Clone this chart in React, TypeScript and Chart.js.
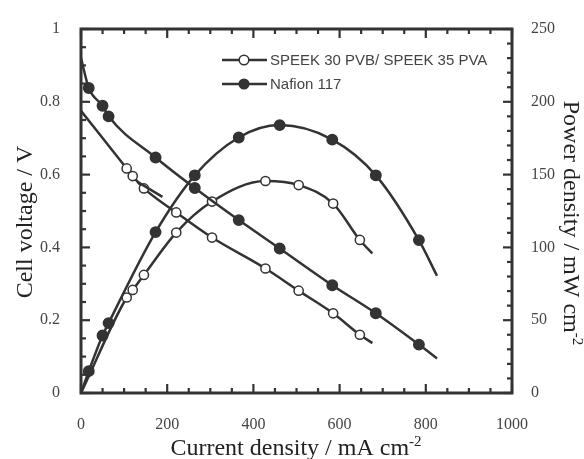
import React, { useEffect, useRef } from "react";
import { Chart, registerables } from "chart.js";

Chart.register(...registerables);

// ---- data ----
const nafionCurrent = [18, 50, 64, 173, 264, 366, 461, 583, 684, 784];
const nafionVoltage = [0.838, 0.789, 0.76, 0.647, 0.563, 0.475, 0.397, 0.296, 0.219, 0.133];
const nafionPower = [15, 39.5, 48, 110.5, 149.5, 175.5, 184, 174, 149.5, 105];
const nafionFitEndCurrent = 826;
const nafionVoltageFitEnds = [0.92, 0.095];
const nafionPowerFitEnds = [0, 80.5];

const speekCurrent = [106, 120, 146, 221, 304, 428, 505, 585, 647];
const speekVoltage = [0.617, 0.596, 0.562, 0.496, 0.427, 0.342, 0.281, 0.219, 0.16];
const speekPower = [65.6, 70.8, 81.1, 110.2, 131.5, 145.6, 142.8, 130.1, 105.1];
const speekFitEndCurrent = 676;
const speekVoltageFitEnds = [0.775, 0.137];
const speekPowerFitEnds = [0, 95.8];

const stubCurrent = [131, 189];
const stubVoltage = [0.58, 0.539];

const legendLabels = ["SPEEK 30 PVB/ SPEEK 35 PVA", "Nafion 117"];

const xRange = [0, 1000];
const xMajorStep = 200;
const xMinorStep = 50;
const yRange = [0, 1];
const yMajorStep = 0.2;
const yMinorStep = 0.05;
const y1Range = [0, 250];
const y1MajorStep = 50;
const y1MinorStep = 10;

const xTitle = ["Current density / mA cm", "-2"];
const yTitle = ["Cell voltage / V", ""];
const y1Title = ["Power density / mW cm", "-2"];

const INK = "#333";

function curve(xs: number[], ys: number[], ends: number[], endX: number) {
  return [
    { x: 0, y: ends[0] },
    ...xs.map((x, i) => ({ x, y: ys[i] })),
    { x: endX, y: ends[1] },
  ];
}

function radiusFn(r: number) {
  return (c: any) =>
    c.dataIndex === 0 || c.dataIndex === c.dataset.data.length - 1 ? 0 : r;
}

const plainLabel = (v: any) => String(Number(Number(v).toFixed(3)));

function drawTitle(
  ctx: CanvasRenderingContext2D,
  cx: number,
  cy: number,
  rot: number,
  parts: string[],
  size: number
) {
  ctx.save();
  ctx.translate(cx, cy);
  ctx.rotate(rot);
  const mainFont = `${size}px "Liberation Serif", "Times New Roman", serif`;
  const supSize = Math.round(size * 0.62);
  const supFont = `${supSize}px "Liberation Serif", "Times New Roman", serif`;
  ctx.font = mainFont;
  const w1 = ctx.measureText(parts[0]).width;
  ctx.font = supFont;
  const w2 = parts[1] ? ctx.measureText(parts[1]).width : 0;
  const total = w1 + w2;
  const base = size * 0.34;
  ctx.fillStyle = "#222";
  ctx.textAlign = "left";
  ctx.textBaseline = "alphabetic";
  ctx.font = mainFont;
  ctx.fillText(parts[0], -total / 2, base);
  if (parts[1]) {
    ctx.font = supFont;
    ctx.fillText(parts[1], -total / 2 + w1, base - size * 0.38);
  }
  ctx.restore();
}

const framePlugin = {
  id: "frameTicks",
  afterDraw(chart: any) {
    const { ctx, chartArea: a, scales } = chart;
    ctx.save();
    ctx.strokeStyle = INK;
    ctx.lineCap = "butt";
    ctx.lineWidth = 2.2;
    const seg = (x1: number, y1: number, x2: number, y2: number) => {
      ctx.beginPath();
      ctx.moveTo(x1, y1);
      ctx.lineTo(x2, y2);
      ctx.stroke();
    };
    const major = 9;
    const minor = 5;
    const nx = Math.round((xRange[1] - xRange[0]) / xMinorStep);
    const rx = Math.round(xMajorStep / xMinorStep);
    for (let i = 0; i <= nx; i++) {
      const p = scales.x.getPixelForValue(xRange[0] + i * xMinorStep);
      const len = i % rx === 0 ? major : minor;
      seg(p, a.bottom, p, a.bottom - len);
      seg(p, a.top, p, a.top + len);
    }
    const ny = Math.round((yRange[1] - yRange[0]) / yMinorStep);
    const ry = Math.round(yMajorStep / yMinorStep);
    for (let i = 0; i <= ny; i++) {
      const p = scales.y.getPixelForValue(yRange[0] + i * yMinorStep);
      const len = i % ry === 0 ? major : minor;
      seg(a.left, p, a.left + len, p);
    }
    const ny1 = Math.round((y1Range[1] - y1Range[0]) / y1MinorStep);
    const ry1 = Math.round(y1MajorStep / y1MinorStep);
    for (let i = 0; i <= ny1; i++) {
      const p = scales.y1.getPixelForValue(y1Range[0] + i * y1MinorStep);
      const len = i % ry1 === 0 ? major : minor;
      seg(a.right, p, a.right - len, p);
    }
    ctx.lineWidth = 3;
    ctx.strokeRect(a.left, a.top, a.right - a.left, a.bottom - a.top);

    // legend
    const items = [
      { label: legendLabels[0], fill: "#fff", y: 60 },
      { label: legendLabels[1], fill: INK, y: 84 },
    ];
    items.forEach((it) => {
      ctx.lineWidth = 2.5;
      ctx.strokeStyle = INK;
      seg(222, it.y, 267, it.y);
      ctx.beginPath();
      ctx.arc(244, it.y, 4.8, 0, Math.PI * 2);
      ctx.fillStyle = it.fill;
      ctx.fill();
      ctx.lineWidth = 1.5;
      ctx.stroke();
      ctx.fillStyle = "#444";
      ctx.font = `15px "Liberation Sans", Arial, sans-serif`;
      ctx.textAlign = "left";
      ctx.textBaseline = "middle";
      ctx.fillText(it.label, 270, it.y + 1);
    });

    // axis titles
    drawTitle(ctx, 23.5, 222, -Math.PI / 2, yTitle, 24);
    drawTitle(ctx, 572, 223, Math.PI / 2, y1Title, 24);
    drawTitle(ctx, 296, 447, 0, xTitle, 24);
    ctx.restore();
  },
};

export default function App() {
  const ref = useRef<HTMLCanvasElement>(null);
  useEffect(() => {
    document.body.style.margin = "0";
    const canvas = ref.current!;
    const tickFont = { family: '"Liberation Serif", "Times New Roman", serif', size: 16 };
    const lineBase = {
      borderColor: INK,
      borderWidth: 2.5,
      cubicInterpolationMode: "monotone" as const,
      pointBorderColor: INK,
      pointBorderWidth: 1.5,
      fill: false,
    };
    const chart = new Chart(canvas, {
      type: "line",
      data: {
        datasets: [
          {
            ...lineBase,
            label: "SPEEK stub",
            yAxisID: "y",
            data: stubCurrent.map((x, i) => ({ x, y: stubVoltage[i] })),
            pointRadius: 0,
          },
          {
            ...lineBase,
            label: legendLabels[1] + " V",
            yAxisID: "y",
            data: curve(nafionCurrent, nafionVoltage, nafionVoltageFitEnds, nafionFitEndCurrent),
            pointRadius: radiusFn(5.2),
            pointBackgroundColor: INK,
          },
          {
            ...lineBase,
            label: legendLabels[1] + " P",
            yAxisID: "y1",
            data: curve(nafionCurrent, nafionPower, nafionPowerFitEnds, nafionFitEndCurrent),
            pointRadius: radiusFn(5.2),
            pointBackgroundColor: INK,
          },
          {
            ...lineBase,
            label: legendLabels[0] + " V",
            yAxisID: "y",
            data: curve(speekCurrent, speekVoltage, speekVoltageFitEnds, speekFitEndCurrent),
            pointRadius: radiusFn(4.6),
            pointBackgroundColor: "#fff",
          },
          {
            ...lineBase,
            label: legendLabels[0] + " P",
            yAxisID: "y1",
            data: curve(speekCurrent, speekPower, speekPowerFitEnds, speekFitEndCurrent),
            pointRadius: radiusFn(4.6),
            pointBackgroundColor: "#fff",
          },
        ],
      },
      options: {
        responsive: false,
        animation: false,
        events: [],
        layout: { padding: { top: 29, left: 0, right: 0, bottom: 0 } },
        plugins: { legend: { display: false }, tooltip: { enabled: false } },
        scales: {
          x: {
            type: "linear",
            position: "bottom",
            min: xRange[0],
            max: xRange[1],
            grid: { display: false },
            border: { display: false },
            ticks: { stepSize: xMajorStep, padding: 14, font: tickFont, color: "#444", maxRotation: 0, callback: plainLabel },
            afterFit: (s: any) => {
              s.height = 66;
            },
          },
          y: {
            type: "linear",
            position: "left",
            min: yRange[0],
            max: yRange[1],
            grid: { display: false },
            border: { display: false },
            ticks: { stepSize: yMajorStep, padding: 13, font: tickFont, color: "#444", callback: plainLabel },
            afterFit: (s: any) => {
              s.width = 81;
            },
          },
          y1: {
            type: "linear",
            position: "right",
            min: y1Range[0],
            max: y1Range[1],
            grid: { display: false },
            border: { display: false },
            ticks: { stepSize: y1MajorStep, padding: 11, font: tickFont, color: "#444", callback: plainLabel },
            afterFit: (s: any) => {
              s.width = 72;
            },
          },
        },
      },
      plugins: [framePlugin],
    });
    return () => chart.destroy();
  }, []);
  return (
    <div style={{ width: 584, height: 459, background: "#fff" }}>
      <canvas ref={ref} width={584} height={459} />
    </div>
  );
}
